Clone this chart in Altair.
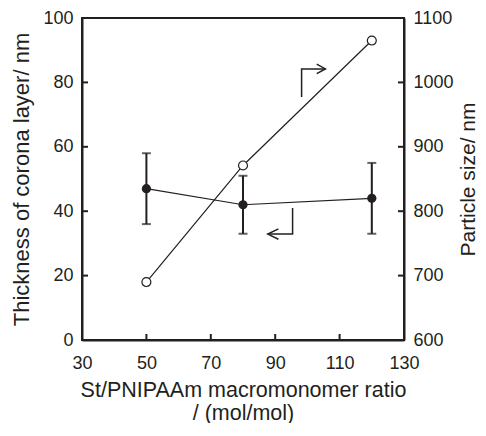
import altair as alt
import pandas as pd

# ---- data ----
RATIO = [50, 80, 120]
THICKNESS = [47, 42, 44]
THICK_LO = [36, 33, 33]
THICK_HI = [58, 51, 55]
PARTICLE = [690, 871, 1065]

X_TICKS = [30, 50, 70, 90, 110, 130]
Y_LEFT_TICKS = [0, 20, 40, 60, 80, 100]
Y_RIGHT_TICKS = [600, 700, 800, 900, 1000, 1100]

# annotation arrows (in data units of x / left y)
ARROW_SEG = [1, 1, 1, 2, 2, 2, 3, 3, 3, 4, 4, 4]
ARROW_ORD = [0, 1, 2, 0, 1, 2, 0, 1, 2, 0, 1, 2]
ARROW_X = [98.2, 98.2, 105.6, 102.9, 105.6, 102.9,
           95.4, 95.4, 87.7, 91.0, 87.7, 91.0]
ARROW_Y = [75.5, 84.2, 84.2, 85.7, 84.2, 82.7,
           41.0, 32.9, 32.9, 34.5, 32.9, 31.3]

W, H = 322, 322
INK = "#231f20"
FONT = "Liberation Sans"
TICK_LEN = 6

df_left = pd.DataFrame({"r": RATIO, "t": THICKNESS, "lo": THICK_LO, "hi": THICK_HI})
df_right = pd.DataFrame({"r": RATIO, "p": PARTICLE})
df_arrow = pd.DataFrame({"seg": ARROW_SEG, "o": ARROW_ORD, "x": ARROW_X, "y": ARROW_Y})
df_xt = pd.DataFrame({"v": X_TICKS[1:-1]})
df_lt = pd.DataFrame({"v": Y_LEFT_TICKS[1:-1]})
df_rt = pd.DataFrame({"v": Y_RIGHT_TICKS[1:-1]})

xs = alt.Scale(domain=[30, 130], nice=False, zero=False)
yl = alt.Scale(domain=[0, 100], nice=False, zero=False)
yr = alt.Scale(domain=[600, 1100], nice=False, zero=False)

x_axis = alt.Axis(values=X_TICKS, ticks=False, labelPadding=14, labelFontSize=18,
                  labelFlush=False, format="d",
                  title=["St/PNIPAAm macromonomer ratio", "/ (mol/mol)"],
                  titleFontSize=21.5, titlePadding=7, titleLineHeight=23)
yl_axis = alt.Axis(values=Y_LEFT_TICKS, ticks=False, labelPadding=9, labelFontSize=18,
                   labelFlush=False, format="d",
                   title="Thickness of corona layer/ nm", titleFontSize=22, titlePadding=9)
yr_axis = alt.Axis(orient="right", values=Y_RIGHT_TICKS, ticks=False, labelPadding=9,
                   labelFontSize=18, labelFlush=False, format="d",
                   title="Particle size/ nm", titleFontSize=21,
                   titlePadding=4, titleAngle=270, titleBaseline="top")


def X(field):
    return alt.X(field, type="quantitative", scale=xs, axis=x_axis)


def YL(field):
    return alt.Y(field, type="quantitative", scale=yl, axis=yl_axis)


def YR(field):
    return alt.Y(field, type="quantitative", scale=yr, axis=yr_axis)


base_l = alt.Chart(df_left)

err = base_l.mark_rule(color=INK, strokeWidth=2).encode(x=X("r"), y=YL("lo"), y2="hi:Q")
cap_lo = base_l.mark_tick(color=INK, orient="horizontal", size=9, thickness=2).encode(
    x=X("r"), y=YL("lo"))
cap_hi = base_l.mark_tick(color=INK, orient="horizontal", size=9, thickness=2).encode(
    x=X("r"), y=YL("hi"))
line_l = base_l.mark_line(color=INK, strokeWidth=1.2).encode(x=X("r"), y=YL("t"))
pts_l = base_l.mark_point(filled=True, color=INK, size=85, opacity=1).encode(
    x=X("r"), y=YL("t"))

arrows = alt.Chart(df_arrow).mark_line(color=INK, strokeWidth=1.5).encode(
    x=X("x"), y=YL("y"), detail="seg:N", order="o:Q")

xticks = alt.Chart(df_xt).mark_rule(color=INK, strokeWidth=2).encode(
    x=X("v"), y=alt.value(H), y2=alt.value(H - TICK_LEN))
lticks = alt.Chart(df_lt).mark_rule(color=INK, strokeWidth=2).encode(
    y=YL("v"), x=alt.value(0), x2=alt.value(TICK_LEN))

left = alt.layer(line_l, err, cap_lo, cap_hi, pts_l, arrows, xticks, lticks)

base_r = alt.Chart(df_right)
line_r = base_r.mark_line(color=INK, strokeWidth=1.2).encode(x=X("r"), y=YR("p"))
pts_r = base_r.mark_point(filled=True, fill="white", stroke=INK, strokeWidth=1.2,
                          size=80, opacity=1).encode(x=X("r"), y=YR("p"))
rticks = alt.Chart(df_rt).mark_rule(color=INK, strokeWidth=2).encode(
    y=YR("v"), x=alt.value(W), x2=alt.value(W - TICK_LEN))

right = alt.layer(line_r, rticks, pts_r)

chart = alt.layer(left, right).resolve_scale(y="independent").properties(
    width=W, height=H,
    autosize=alt.AutoSizeParams(type="none"),
    padding={"left": 74, "top": 10, "right": 74, "bottom": 83},
    background="white",
).configure_view(stroke=INK, strokeWidth=2).configure_axis(
    labelFont=FONT, titleFont=FONT, labelColor=INK, titleColor=INK,
    titleFontWeight="normal", domainColor=INK, domainWidth=2, grid=False,
)

chart.save("out.html", embed_options={"renderer": "svg", "actions": False})
